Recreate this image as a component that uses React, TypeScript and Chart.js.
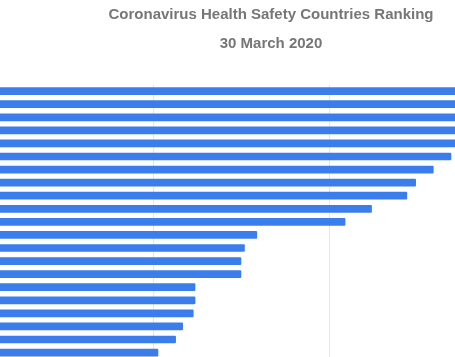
import React, { useEffect, useRef } from "react";
import { Chart, registerables } from "chart.js";

Chart.register(...registerables);

const countries = [
  "Israel", "Germany", "South Korea", "Australia", "China", "New Zealand", "Taiwan",
  "Singapore", "Japan", "Hong Kong", "Austria", "Switzerland", "Canada", "UAE",
  "Iceland", "Saudi Arabia", "Qatar", "Norway", "Denmark", "Netherlands", "Finland",
];
const scores = [
  300, 295, 290, 285, 280, 269, 259, 249, 244, 224, 209, 159, 152, 150, 150, 124,
  124, 123, 117, 113, 103,
];
const gridStep = 100;
const axisMax = 333.7;
const titleText = "Coronavirus Health Safety Countries Ranking";
const subtitleText = "30 March 2020";

export default function App() {
  const ref = useRef<HTMLCanvasElement | null>(null);
  useEffect(() => {
    if (!ref.current) return;
    const chart = new Chart(ref.current, {
      type: "bar",
      data: {
        labels: countries,
        datasets: [
          {
            data: scores,
            backgroundColor: "#3b7deb",
            borderRadius: 1,
            borderSkipped: false,
            barPercentage: 0.59,
            categoryPercentage: 1,
          },
        ],
      },
      options: {
        indexAxis: "y",
        responsive: false,
        animation: false,
        layout: { padding: { left: 16.5, right: 0.5, top: 0, bottom: 2.9 } },
        plugins: {
          legend: { display: false },
          tooltip: { enabled: false },
          title: {
            display: true,
            text: titleText,
            color: "#767676",
            font: { family: "'Liberation Sans', Arial, sans-serif", size: 15, weight: "bold", lineHeight: 1.2 },
            padding: { top: 6, bottom: 0 },
          },
          subtitle: {
            display: true,
            text: subtitleText,
            color: "#767676",
            font: { family: "'Liberation Sans', Arial, sans-serif", size: 15, weight: "bold", lineHeight: 1.2 },
            padding: { top: 11, bottom: 31.6 },
          },
        },
        scales: {
          x: {
            min: 0,
            max: axisMax,
            ticks: { display: false, stepSize: gridStep },
            grid: { color: "#e6e6e6", drawTicks: false },
            border: { display: false },
          },
          y: { display: false },
        },
      },
    });
    return () => chart.destroy();
  }, []);
  return (
    <div style={{ position: "fixed", left: 0, top: 0, width: 455, height: 357, overflow: "hidden", background: "#fff" }}>
      <canvas
        ref={ref}
        width={606}
        height={362}
        style={{ position: "absolute", left: -40, top: 0, width: 606, height: 362 }}
      />
    </div>
  );
}
